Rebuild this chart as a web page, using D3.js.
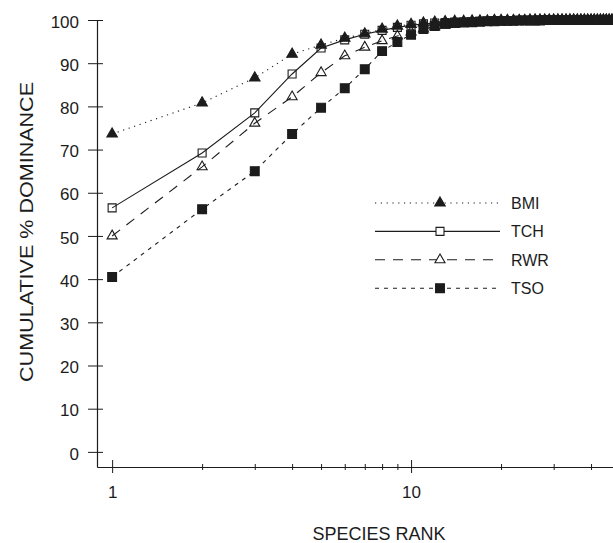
<!DOCTYPE html>
<html>
<head>
<meta charset="utf-8">
<script src="https://cdn.jsdelivr.net/npm/d3@7"></script>
<style>
  body { margin: 0; background: #fff; }
  svg { display: block; font-family: 'Liberation Sans', Arial, sans-serif; }
</style>
</head>
<body>
<div id="viz"></div>
<script>
const width = 613;
const height = 543;
const ink = '#1c1c1c';

// species rank 1..50
const ranks = [1, 2, 3, 4, 5, 6, 7, 8, 9, 10,
  11, 12, 13, 14, 15, 16, 17, 18, 19, 20,
  21, 22, 23, 24, 25, 26, 27, 28, 29, 30,
  31, 32, 33, 34, 35, 36, 37, 38, 39, 40,
  41, 42, 43, 44, 45, 46, 47, 48, 49, 50];

const bmi = [73.6, 80.8, 86.6, 92.1, 94.2, 95.8, 96.8, 97.9, 98.6, 99.0,
  99.3, 99.5, 99.6, 99.7, 99.7, 99.8, 99.8, 99.8, 99.9, 99.9,
  99.9, 99.9, 99.9, 99.9, 100, 100, 100, 100, 100, 100,
  100, 100, 100, 100, 100, 100, 100, 100, 100, 100,
  100, 100, 100, 100, 100, 100, 100, 100, 100, 100];

const tch = [56.5, 69.2, 78.5, 87.5, 93.5, 95.4, 96.7, 97.6, 98.3, 98.8,
  99.1, 99.3, 99.4, 99.5, 99.6, 99.6, 99.7, 99.7, 99.8, 99.8,
  99.8, 99.9, 99.9, 99.9, 99.9, 99.9, 100, 100, 100, 100,
  100, 100, 100, 100, 100, 100, 100, 100, 100, 100,
  100, 100, 100, 100, 100, 100, 100, 100, 100, 100];

const rwr = [50.0, 66.0, 76.1, 82.2, 87.8, 91.7, 93.7, 95.2, 96.3, 97.2,
  97.9, 98.4, 98.8, 99.0, 99.2, 99.3, 99.4, 99.5, 99.6, 99.6,
  99.7, 99.7, 99.8, 99.8, 99.8, 99.9, 99.9, 99.9, 99.9, 99.9,
  100, 100, 100, 100, 100, 100, 100, 100, 100, 100,
  100, 100, 100, 100, 100, 100, 100, 100, 100, 100];

const tso = [40.5, 56.2, 65.0, 73.6, 79.7, 84.2, 88.6, 92.8, 94.9, 96.6,
  97.9, 98.6, 99.1, 99.3, 99.4, 99.5, 99.6, 99.7, 99.7, 99.8,
  99.8, 99.8, 99.9, 99.9, 99.9, 99.9, 99.9, 100, 100, 100,
  100, 100, 100, 100, 100, 100, 100, 100, 100, 100,
  100, 100, 100, 100, 100, 100, 100, 100, 100, 100];

const seriesNames = ['BMI', 'TCH', 'RWR', 'TSO'];
const yTicks = [0, 10, 20, 30, 40, 50, 60, 70, 80, 90, 100];
const xMajor = [1, 10, 100];
const xLabels = [1, 10];
const xMinor = [2, 3, 4, 5, 6, 7, 8, 9, 20, 30, 40, 50, 60, 70, 80, 90];

const styles = {
  BMI: {dash: '1.2,4.6', symbol: d3.symbolTriangle, size: 48, fill: ink},
  TCH: {dash: null, symbol: d3.symbolSquare, size: 64, fill: 'none'},
  RWR: {dash: '10,8', symbol: d3.symbolTriangle, size: 44, fill: 'none'},
  TSO: {dash: '4,5', symbol: d3.symbolSquare, size: 78, fill: ink}
};

const series = [bmi, tch, rwr, tso].map((vals, i) => ({
  name: seriesNames[i],
  values: vals.map((v, j) => ({rank: ranks[j], value: v}))
}));

const x = d3.scaleLog().domain([0.89, 100]).range([97, 710]);
const y = d3.scaleLinear().domain([-3.5, 100]).range([467, 20]);

const svg = d3.select('#viz')
  .append('svg')
    .attr('width', width)
    .attr('height', height);

// y axis
const yAxis = svg.append('g')
  .attr('transform', `translate(${x(0.89)}, 0)`)
  .call(d3.axisLeft(y).tickValues(yTicks).tickSizeOuter(0))
yAxis.select('.domain').attr('stroke', ink).attr('stroke-width', 1.2)
yAxis.selectAll('.tick line').attr('stroke', ink).attr('x1', 6).attr('x2', -9)
yAxis.selectAll('.tick text')
  .attr('x', -18)
  .attr('dy', '0.42em')
  .attr('fill', ink)
  .attr('font-size', 17)

// x axis (major ticks cross the axis, only 1 and 10 are labelled)
const xAxis = svg.append('g')
  .attr('transform', `translate(0, ${y(-3.5)})`)
  .call(d3.axisBottom(x)
    .tickValues(xMajor.concat(xMinor).filter(d => x(d) < width))
    .tickSizeOuter(0)
    .tickFormat(d => xLabels.includes(d) ? d : ''))
xAxis.select('.domain').attr('stroke', ink).attr('stroke-width', 1.2)
xAxis.selectAll('.tick line')
  .attr('stroke', ink)
  .attr('y1', d => xMajor.includes(d) ? -7 : -3)
  .attr('y2', d => xMajor.includes(d) ? 6 : 3)
xAxis.selectAll('.tick text')
  .attr('y', 19)
  .attr('fill', ink)
  .attr('font-size', 17)

// axis titles
svg.append('text')
  .attr('transform', `translate(33, ${y(50) - 4}) rotate(-90)`)
  .attr('text-anchor', 'middle')
  .attr('font-size', 18)
  .attr('textLength', 300)
  .attr('lengthAdjust', 'spacingAndGlyphs')
  .attr('fill', ink)
  .text('CUMULATIVE % DOMINANCE')

svg.append('text')
  .attr('x', 379)
  .attr('y', 540)
  .attr('text-anchor', 'middle')
  .attr('font-size', 18)
  .attr('fill', ink)
  .text('SPECIES RANK')

// lines
const line = d3.line()
  .x(d => x(d.rank))
  .y(d => y(d.value))

const groups = svg.append('g')
  .selectAll('.series')
  .data(series)
  .join('g')
  .attr('class', 'series')

groups.append('path')
  .attr('d', d => line(d.values))
  .attr('fill', 'none')
  .attr('stroke', ink)
  .attr('stroke-width', 1.1)
  .attr('stroke-dasharray', d => styles[d.name].dash)

groups.selectAll('.pt')
  .data(d => d.values.map(v => ({...v, name: d.name})))
  .join('path')
  .attr('class', 'pt')
  .attr('transform', d => `translate(${x(d.rank)}, ${y(d.value)})`)
  .attr('d', d => d3.symbol(styles[d.name].symbol, styles[d.name].size)())
  .attr('fill', d => styles[d.name].fill)
  .attr('stroke', ink)
  .attr('stroke-width', 1.1)

// legend
const legend = svg.append('g')
  .attr('transform', 'translate(375, 203)')
  .selectAll('.leg')
  .data(seriesNames)
  .join('g')
  .attr('class', 'leg')
  .attr('transform', (d, i) => `translate(0, ${i * 28.4})`)

legend.append('line')
  .attr('x1', 0)
  .attr('x2', 125)
  .attr('stroke', ink)
  .attr('stroke-width', 1.1)
  .attr('stroke-dasharray', d => styles[d].dash)

legend.append('path')
  .attr('transform', 'translate(65, 0)')
  .attr('d', d => d3.symbol(styles[d].symbol, styles[d].size)())
  .attr('fill', d => styles[d].fill === 'none' ? '#fff' : styles[d].fill)
  .attr('stroke', ink)
  .attr('stroke-width', 1.1)

legend.append('text')
  .attr('x', 136)
  .attr('dy', '0.36em')
  .attr('font-size', 16)
  .attr('fill', ink)
  .text(d => d)
</script>
</body>
</html>
